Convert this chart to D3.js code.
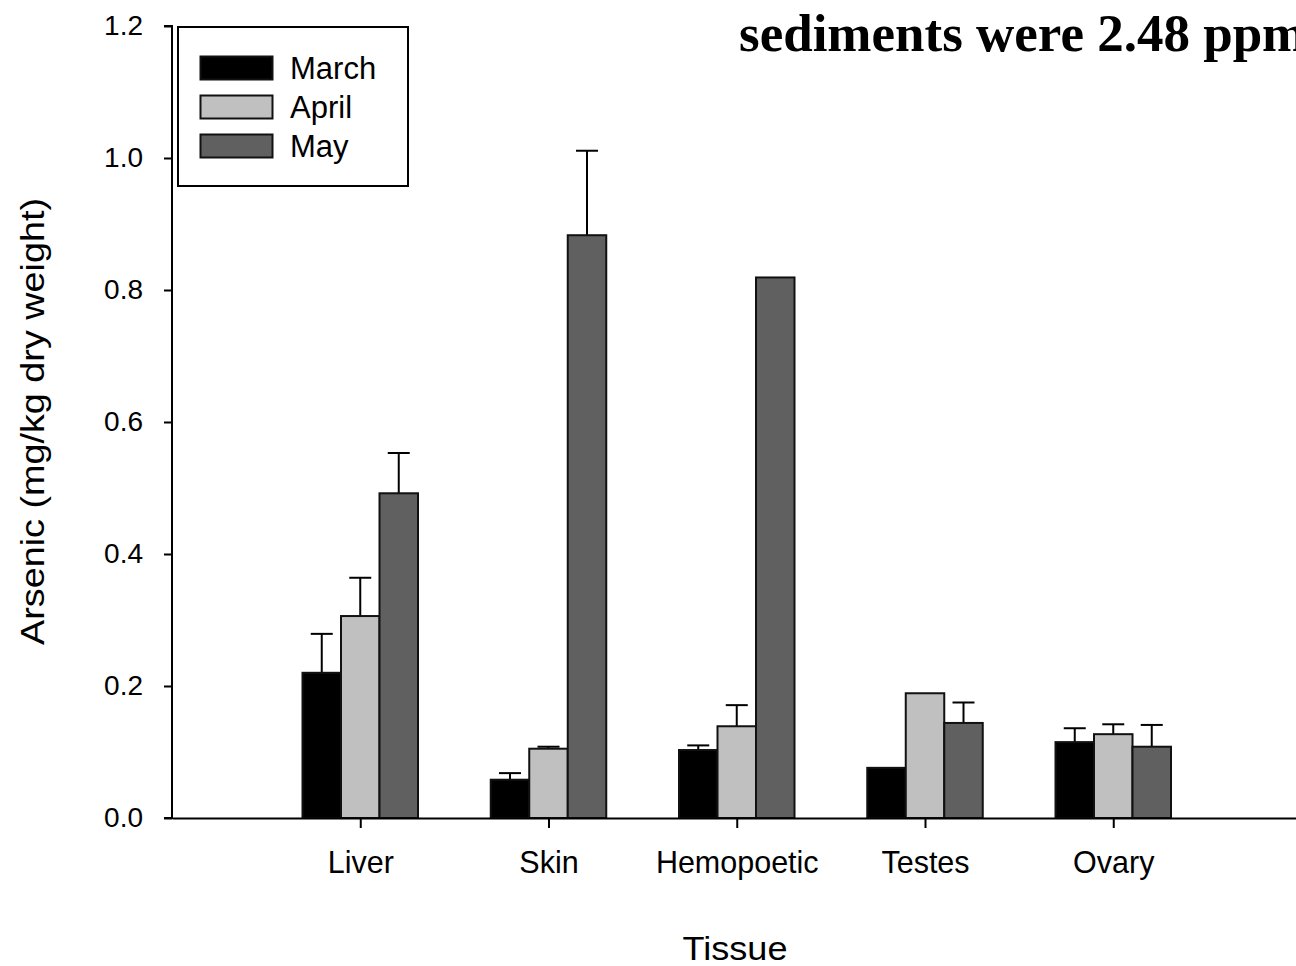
<!DOCTYPE html>
<html>
<head>
<meta charset="utf-8">
<script src="https://cdn.jsdelivr.net/npm/d3@7"></script>
<style>
  html, body { margin: 0; padding: 0; background: #fff; overflow: hidden; }
  svg { display: block; }
</style>
</head>
<body>
<svg id="chart" width="1296" height="966"></svg>
<script>
// Arsenic concentration by tissue and month
const tissues = ["Liver", "Skin", "Hemopoetic", "Testes", "Ovary"];
const months = ["March", "April", "May"];
const monthColors = ["#000000", "#c0c0c0", "#606060"];

// mean values per month (same order as tissues)
const marchMean = [0.220, 0.058, 0.103, 0.076, 0.115];
const aprilMean = [0.306, 0.105, 0.139, 0.189, 0.127];
const mayMean   = [0.492, 0.883, 0.819, 0.144, 0.108];

// upper end of error bar (null = none drawn)
const marchUpper = [0.279, 0.068, 0.110, null, 0.136];
const aprilUpper = [0.364, 0.108, 0.171, null, 0.142];
const mayUpper   = [0.553, 1.011, null, 0.175, 0.141];

const yTicks = [0.0, 0.2, 0.4, 0.6, 0.8, 1.0, 1.2];

const means = [marchMean, aprilMean, mayMean];
const uppers = [marchUpper, aprilUpper, mayUpper];

const svg = d3.select("#chart");

const x0 = 172, yBase = 818, yTop = 26;
const y = d3.scaleLinear().domain([0, 1.2]).range([yBase, yTop]);
// categories sit at positions 1..5 on a 0..6 axis
const xPos = d3.scaleLinear().domain([0, 6]).range([x0, x0 + 6 * 188.25]);
const barW = 38.5;

const font = "'Liberation Sans', Arial, Helvetica, sans-serif";

// one record per bar
const rows = [];
tissues.forEach((t, i) => {
  months.forEach((m, j) => {
    rows.push({ tissue: t, i, j, v: means[j][i], up: uppers[j][i] });
  });
});

const g = svg.append("g");
const barX = d => xPos(d.i + 1) + (d.j - 1.5) * barW;

// upper error bars
const err = rows.filter(d => d.up != null);
g.selectAll("line.stem").data(err).join("line")
  .attr("class", "stem")
  .attr("x1", d => barX(d) + barW / 2).attr("x2", d => barX(d) + barW / 2)
  .attr("y1", d => y(d.v)).attr("y2", d => y(d.up))
  .attr("stroke", "#000").attr("stroke-width", 2);
g.selectAll("line.cap").data(err).join("line")
  .attr("class", "cap")
  .attr("x1", d => barX(d) + barW / 2 - 11).attr("x2", d => barX(d) + barW / 2 + 11)
  .attr("y1", d => y(d.up)).attr("y2", d => y(d.up))
  .attr("stroke", "#000").attr("stroke-width", 2);

g.selectAll("rect.bar").data(rows).join("rect")
  .attr("class", "bar")
  .attr("x", d => barX(d))
  .attr("y", d => y(d.v))
  .attr("width", barW)
  .attr("height", d => yBase - y(d.v))
  .attr("fill", d => monthColors[d.j])
  .attr("stroke", "#111")
  .attr("stroke-width", 2);

// y axis
const yAxis = d3.axisLeft(y).tickValues(yTicks).tickFormat(d3.format(".1f"))
  .tickSize(8).tickPadding(21);
const ya = svg.append("g").attr("transform", `translate(${x0},0)`).call(yAxis);
ya.select(".domain").attr("stroke", "#000").attr("stroke-width", 2).attr("d", `M-8,${yTop}H0V${yBase}H-8`);
ya.selectAll(".tick line").attr("stroke-width", 2);
ya.selectAll(".tick text").attr("font-family", font).attr("font-size", 28).attr("fill", "#000");

// x axis
const xa = svg.append("g").attr("transform", `translate(0,${yBase})`)
  .call(d3.axisBottom(xPos).tickValues([1, 2, 3, 4, 5]).tickFormat(d => tissues[d - 1])
    .tickSize(10).tickSizeOuter(0).tickPadding(23));
xa.select(".domain").attr("stroke-width", 2);
xa.selectAll(".tick line").attr("stroke-width", 2);
xa.selectAll(".tick text").attr("font-family", font).attr("font-size", 30.5).attr("fill", "#000");

// axis titles
svg.append("text")
  .attr("x", 735).attr("y", 960)
  .attr("text-anchor", "middle")
  .attr("font-family", font).attr("font-size", 34)
  .attr("textLength", 105).attr("lengthAdjust", "spacingAndGlyphs")
  .text("Tissue");

svg.append("text")
  .attr("transform", "translate(44,421.5) rotate(-90)")
  .attr("text-anchor", "middle")
  .attr("font-family", font).attr("font-size", 34)
  .attr("textLength", 447).attr("lengthAdjust", "spacingAndGlyphs")
  .text("Arsenic (mg/kg dry weight)");

// heading text, runs past the right edge
svg.append("text")
  .attr("x", 739).attr("y", 51)
  .attr("font-family", "'Liberation Serif', 'Times New Roman', serif")
  .attr("font-weight", "bold").attr("font-size", 53)
  .text("sediments were 2.48 ppm");

// legend
const lg = svg.append("g");
lg.append("rect").attr("x", 178).attr("y", 27).attr("width", 230).attr("height", 159)
  .attr("fill", "#fff").attr("stroke", "#000").attr("stroke-width", 2);
months.forEach((m, j) => {
  const cy = 68 + j * 39;
  lg.append("rect").attr("x", 200.5).attr("y", cy - 11.5).attr("width", 72).attr("height", 23)
    .attr("fill", monthColors[j]).attr("stroke", "#111").attr("stroke-width", 2);
  lg.append("text").attr("x", 290).attr("y", cy + 11)
    .attr("font-family", font).attr("font-size", 31).text(m);
});
</script>
</body>
</html>
